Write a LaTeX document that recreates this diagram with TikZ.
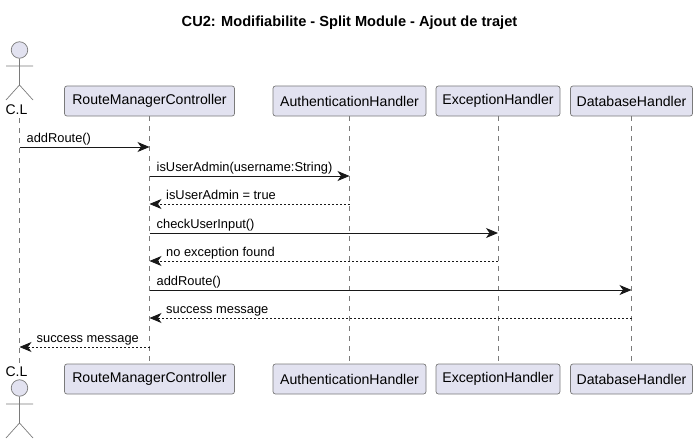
\documentclass[tikz,border=0pt]{standalone}
\usepackage{fontspec}
\setmainfont{Liberation Sans}
\usetikzlibrary{arrows.meta}
\definecolor{pbox}{HTML}{E2E2F0}
\definecolor{pline}{HTML}{181818}
\definecolor{pgrey}{HTML}{7A7A7A}
\tikzset{
  x=1pt,y=-1pt,
  part/.style={draw=pgrey,fill=pbox,rounded corners=2.5pt,line width=0.7pt,minimum height=30pt,inner sep=0pt,font=\fontsize{14.1}{16}\selectfont,text=black,anchor=center},
  life/.style={draw=pgrey,line width=0.7pt,dash pattern=on 5pt off 5pt},
  sync/.style={draw=pline,line width=0.9pt,-{Stealth[length=12pt,width=10pt,inset=3.5pt]}},
  ret/.style={draw=pline,line width=0.8pt,dash pattern=on 2pt off 2pt,-{Stealth[length=12pt,width=10pt,inset=3.5pt]}},
  msg/.style={font=\fontsize{12.85}{15}\selectfont,text=black,anchor=base west,inner sep=0pt},
  actorline/.style={draw=pgrey,line width=0.7pt},
  actorhead/.style={circle,draw=pgrey,fill=pbox,line width=0.7pt,minimum size=16.5pt,inner sep=0pt},
  actorname/.style={font=\fontsize{14}{16}\selectfont,text=black,inner sep=0pt}
}
\begin{document}
\begin{tikzpicture}
\useasboundingbox (0,0) rectangle (699,444);
\coordinate (cltop) at (19.5,118);
\coordinate (clbot) at (19.5,364);
\node[part,minimum width=170pt] (rt) at (149.5,101) {RouteManagerController};
\node[part,minimum width=153pt] (at) at (349.5,101) {AuthenticationHandler};
\node[part,minimum width=124pt] (et) at (498,101) {ExceptionHandler};
\node[part,minimum width=122pt] (dt) at (631.5,101) {DatabaseHandler};
\node[part,minimum width=170pt] (rb) at (149.5,379) {RouteManagerController};
\node[part,minimum width=153pt] (ab) at (349.5,379) {AuthenticationHandler};
\node[part,minimum width=124pt] (eb) at (498,379) {ExceptionHandler};
\node[part,minimum width=122pt] (db) at (631.5,379) {DatabaseHandler};
\draw[life] (cltop) -- (clbot);
\draw[life] (rt.south) -- (rb.north);
\draw[life] (at.south) -- (ab.north);
\draw[life] (et.south) -- (eb.north);
\draw[life] (dt.south) -- (db.north);
\node[font=\bfseries\fontsize{14.6}{17}\selectfont,text=black,inner sep=0pt] (title) at (349.5,23) {CU2: Modifiabilite - Split Module - Ajout de trajet};
\node[actorhead] (h1) at (19.5,50) {};
\coordinate (a1l) at (6,66); \coordinate (a1r) at (33,66);
\coordinate (b1) at (19.5,85); \coordinate (l1l) at (6,100); \coordinate (l1r) at (33,100);
\draw[actorline] (h1.south) -- (b1) (a1l) -- (a1r) (l1l) -- (b1) -- (l1r);
\node[actorname] (n1) at (16.5,110) {C.L};
\node[actorname] (n2) at (16.5,372) {C.L};
\node[actorhead] (h2) at (19.5,388) {};
\coordinate (a2l) at (6,404); \coordinate (a2r) at (33,404);
\coordinate (b2) at (19.5,423); \coordinate (l2l) at (6,438); \coordinate (l2r) at (33,438);
\draw[actorline] (h2.south) -- (b2) (a2l) -- (a2r) (l2l) -- (b2) -- (l2r);
\foreach \na/\xa/\nb/\xb/\yy/\st/\tx/\lx in {
 c/19.5/r/149.5/147/sync/{addRoute()}/26.5,
 r/149.5/a/349.5/176/sync/{isUserAdmin(username:String)}/156.5,
 a/349.5/r/149.5/204/ret/{isUserAdmin = true}/166,
 r/149.5/e/498/233/sync/{checkUserInput()}/156.5,
 e/498/r/149.5/261/ret/{no exception found}/166,
 r/149.5/d/631.5/290/sync/{addRoute()}/156.5,
 d/631.5/r/149.5/318/ret/{success message}/166,
 r/149.5/c/19.5/347/ret/{success message}/36.5}{
  \coordinate (p\yy) at (\xa,\yy);
  \coordinate (q\yy) at (\xb,\yy);
  \draw[\st] (p\yy) -- (q\yy);
  \node[msg] (m\yy) at (\lx,\yy-4.5) {\tx};
}
\end{tikzpicture}
\end{document}
